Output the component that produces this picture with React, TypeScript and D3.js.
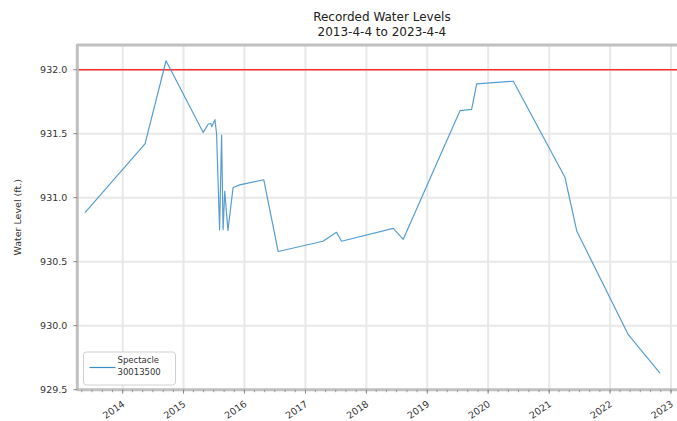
import { useEffect, useRef } from "react";
import * as d3 from "d3";

// readings, station 30013500
const dates = [
  "2013-05-20", "2014-05-15", "2014-09-18", "2015-04-29", "2015-05-29",
  "2015-06-13", "2015-06-19", "2015-07-08", "2015-07-18", "2015-08-05",
  "2015-08-17", "2015-08-26", "2015-09-05", "2015-09-24", "2015-10-25",
  "2015-12-04", "2016-04-26", "2016-07-21", "2017-04-16", "2017-07-06",
  "2017-08-05", "2018-06-11", "2018-08-10", "2019-07-16", "2019-09-24",
  "2019-10-24", "2020-05-31", "2021-04-05", "2021-06-15", "2022-04-20",
  "2022-10-27",
];
const levels = [
  930.883, 931.42, 932.07, 931.51, 931.576,
  931.58, 931.555, 931.61, 931.5, 930.748,
  931.49, 930.75, 931.05, 930.745, 931.08,
  931.1, 931.14, 930.58, 930.66, 930.73,
  930.66, 930.76, 930.675, 931.68, 931.69,
  931.89, 931.91, 931.16, 930.74, 929.93,
  929.63,
];
const yTicks = [929.5, 930.0, 930.5, 931.0, 931.5, 932.0];
const xTickYears = [2014, 2015, 2016, 2017, 2018, 2019, 2020, 2021, 2022, 2023];
const threshold = 932.0;
const title = ["Recorded Water Levels", "2013-4-4 to 2023-4-4"];
const legendLabel = ["Spectacle", "30013500"];

const App = () => {
  const ref = useRef<SVGSVGElement>(null);

  useEffect(() => {
    if (!ref.current) return;
    const svg = d3.select(ref.current);
    svg.selectAll("*").remove();

    const left = 77.3, right = 686.5, top = 45, bottom = 389.7;
    const parse = d3.timeParse("%Y-%m-%d");
    const data = dates.map((d, i) => ({ date: parse(d)!, value: levels[i] }));

    const x = d3
      .scaleTime()
      .domain([new Date(2013, 3, 4), new Date(2023, 3, 4)])
      .range([left, right]);
    const y = d3.scaleLinear().domain([929.5, 932.193]).range([bottom, top]);

    const font = "DejaVu Sans, sans-serif";
    const spine = "#c0c0c0";

    // grid
    const grid = svg.append("g");
    xTickYears.forEach(yr => {
      const px = x(new Date(yr, 0, 1));
      grid.append("line")
        .attr("x1", px).attr("x2", px).attr("y1", top).attr("y2", bottom)
        .attr("stroke", "#e8e8e8").attr("stroke-width", 2);
    });
    yTicks.forEach(v => {
      grid.append("line")
        .attr("x1", left).attr("x2", right).attr("y1", y(v)).attr("y2", y(v))
        .attr("stroke", "#e8e8e8").attr("stroke-width", 2);
    });

    // threshold
    svg.append("line")
      .attr("x1", left).attr("x2", right)
      .attr("y1", y(threshold)).attr("y2", y(threshold))
      .attr("stroke", "#ff3030").attr("stroke-width", 1.6);

    // series
    const line = d3.line<{ date: Date; value: number }>()
      .x(d => x(d.date))
      .y(d => y(d.value));
    svg.append("path")
      .datum(data)
      .attr("fill", "none")
      .attr("stroke", "#3a8cc8")
      .attr("stroke-opacity", 0.85)
      .attr("stroke-width", 1.2)
      .attr("stroke-linejoin", "round")
      .attr("d", line);

    // spines
    svg.append("line")
      .attr("x1", left).attr("x2", left).attr("y1", top - 1).attr("y2", bottom + 1)
      .attr("stroke", spine).attr("stroke-width", 3);
    svg.append("line")
      .attr("x1", left).attr("x2", right).attr("y1", top).attr("y2", top)
      .attr("stroke", spine).attr("stroke-width", 3);
    svg.append("line")
      .attr("x1", left).attr("x2", right).attr("y1", bottom).attr("y2", bottom)
      .attr("stroke", spine).attr("stroke-width", 3);

    // minor ticks
    x.ticks(d3.timeMonth.every(2)!).forEach(t => {
      const px = x(t);
      if (px < left || px > right) return;
      svg.append("line")
        .attr("x1", px).attr("x2", px).attr("y1", bottom).attr("y2", bottom + 2.5)
        .attr("stroke", "#999").attr("stroke-width", 1);
    });

    // y ticks
    yTicks.forEach(v => {
      svg.append("line")
        .attr("x1", left - 4).attr("x2", left).attr("y1", y(v)).attr("y2", y(v))
        .attr("stroke", "#888").attr("stroke-width", 1);
      svg.append("text")
        .attr("x", left - 10).attr("y", y(v)).attr("dy", "0.35em")
        .attr("text-anchor", "end")
        .style("font-family", font).style("font-size", "9.5px").attr("fill", "#333")
        .text(v.toFixed(1));
    });

    // x ticks
    xTickYears.forEach(yr => {
      const px = x(new Date(yr, 0, 1));
      svg.append("line")
        .attr("x1", px).attr("x2", px).attr("y1", bottom).attr("y2", bottom + 4)
        .attr("stroke", "#888").attr("stroke-width", 1);
      svg.append("text")
        .attr("transform", `translate(${px + 1},${bottom + 13}) rotate(-35)`)
        .attr("text-anchor", "end")
        .attr("dy", "0.35em")
        .style("font-family", font).style("font-size", "9.5px").attr("fill", "#333")
        .text(String(yr));
    });

    // y label
    svg.append("text")
      .attr("transform", `translate(21,${(top + bottom) / 2}) rotate(-90)`)
      .attr("text-anchor", "middle")
      .style("font-family", font).style("font-size", "9.5px").attr("fill", "#333")
      .text("Water Level (ft.)");

    // title
    title.forEach((t, i) => {
      svg.append("text")
        .attr("x", (left + right) / 2).attr("y", 21 + i * 15)
        .attr("text-anchor", "middle")
        .style("font-family", font).style("font-size", "12px").attr("fill", "#222")
        .text(t);
    });

    // legend
    const lg = svg.append("g").attr("transform", "translate(83.5,352)");
    lg.append("rect")
      .attr("width", 92).attr("height", 33).attr("rx", 3)
      .attr("fill", "white").attr("stroke", "#d0d0d0").attr("stroke-width", 1);
    lg.append("line")
      .attr("x1", 6).attr("x2", 32).attr("y1", 15.5).attr("y2", 15.5)
      .attr("stroke", "#3a8cc8").attr("stroke-width", 1.2);
    legendLabel.forEach((t, i) => {
      lg.append("text")
        .attr("x", 34).attr("y", 11 + i * 12)
        .style("font-family", font).style("font-size", "8.5px").attr("fill", "#333")
        .text(t);
    });
  }, []);

  return (
    <svg
      ref={ref}
      width={677}
      height={421}
      style={{ position: "absolute", left: 0, top: 0, background: "white" }}
    />
  );
};

export default App;
